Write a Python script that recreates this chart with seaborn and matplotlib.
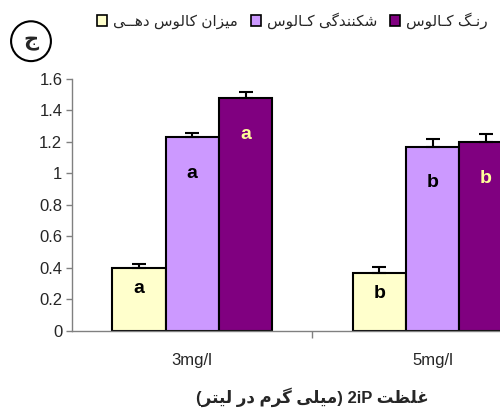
import numpy as np
import pandas as pd
import matplotlib
matplotlib.use('Agg')
import matplotlib.pyplot as plt
import seaborn as sns

# data
concentrations = ['3mg/l', '5mg/l']
series_names = ['میزان کالوس دهــی', 'شکنندگی کـالوس', 'رنـگ کـالوس']
induction = [0.40, 0.37]
fragility = [1.23, 1.17]
colour = [1.48, 1.20]
induction_err = [0.027, 0.034]
fragility_err = [0.025, 0.05]
colour_err = [0.035, 0.05]
induction_letters = ['a', 'b']
fragility_letters = ['a', 'b']
colour_letters = ['a', 'b']
yticks = [0, 0.2, 0.4, 0.6, 0.8, 1, 1.2, 1.4, 1.6]
ytick_labels = ['0', '0.2', '0.4', '0.6', '0.8', '1', '1.2', '1.4', '1.6']

palette = ['#FFFFCC', '#CC99FF', '#800080']
letter_colours = ['black', 'black', '#FFFF99']

# minimal arabic/persian shaping (matplotlib has no bidi / joining)
FORMS = {
    'ا': ('\uFE8D', '\uFE8E', None, None),
    'ت': ('\uFE95', '\uFE96', '\uFE97', '\uFE98'),
    'ج': ('\uFE9D', '\uFE9E', '\uFE9F', '\uFEA0'),
    'د': ('\uFEA9', '\uFEAA', None, None),
    'ر': ('\uFEAD', '\uFEAE', None, None),
    'ز': ('\uFEAF', '\uFEB0', None, None),
    'س': ('\uFEB1', '\uFEB2', '\uFEB3', '\uFEB4'),
    'ش': ('\uFEB5', '\uFEB6', '\uFEB7', '\uFEB8'),
    'ظ': ('\uFEC5', '\uFEC6', '\uFEC7', '\uFEC8'),
    'غ': ('\uFECD', '\uFECE', '\uFECF', '\uFED0'),
    'ک': ('\uFB8E', '\uFB8F', '\uFB90', '\uFB91'),
    'گ': ('\uFB92', '\uFB93', '\uFB94', '\uFB95'),
    'ل': ('\uFEDD', '\uFEDE', '\uFEDF', '\uFEE0'),
    'م': ('\uFEE1', '\uFEE2', '\uFEE3', '\uFEE4'),
    'ن': ('\uFEE5', '\uFEE6', '\uFEE7', '\uFEE8'),
    'ه': ('\uFEE9', '\uFEEA', '\uFEEB', '\uFEEC'),
    'و': ('\uFEED', '\uFEEE', None, None),
    'ی': ('\uFBFC', '\uFBFD', '\uFBFE', '\uFBFF'),
}
TATWEEL = 'ـ'


def joins_left(ch):
    return ch == TATWEEL or (ch in FORMS and FORMS[ch][2] is not None)


def is_letter(ch):
    return ch == TATWEEL or ch in FORMS


def rtl(text):
    out = []
    for i, ch in enumerate(text):
        if ch not in FORMS:
            out.append(ch)
            continue
        prev = text[i - 1] if i > 0 else ''
        nxt = text[i + 1] if i + 1 < len(text) else ''
        p = joins_left(prev)
        n = joins_left(ch) and is_letter(nxt)
        iso, fin, ini, med = FORMS[ch]
        if p and n:
            out.append(med)
        elif p:
            out.append(fin)
        elif n:
            out.append(ini)
        else:
            out.append(iso)
    return ''.join(out)[::-1]


df = pd.DataFrame({
    'conc': concentrations * 3,
    'series': [s for s in series_names for _ in concentrations],
    'value': induction + fragility + colour,
})
errs = [induction_err, fragility_err, colour_err]
letters = [induction_letters, fragility_letters, colour_letters]

sns.set_style('ticks')
plt.rcParams['font.family'] = ['Liberation Sans', 'DejaVu Sans']

fig = plt.figure(figsize=(5, 4.12), dpi=100)
ax = fig.add_axes([0.144, 0.1966, 0.962, 0.6117])

sns.barplot(data=df, x='conc', y='value', hue='series', palette=palette,
            width=0.665, edgecolor='black', linewidth=1.5, saturation=1,
            errorbar=None, ax=ax)
ax.get_legend().remove()

offsets = [0.13, 0.23, 0.23]
bar_containers = list(ax.containers)
for k, cont in enumerate(bar_containers):
    for j, bar in enumerate(cont.patches):
        xc = bar.get_x() + bar.get_width() / 2
        h = bar.get_height()
        ax.errorbar(xc, h, yerr=[[0], [errs[k][j]]], fmt='none',
                    ecolor='black', elinewidth=1.5, capsize=5, capthick=1.5)
        ax.text(xc, h - offsets[k], letters[k][j], ha='center', va='center',
                fontsize=14, fontweight='bold', color=letter_colours[k])

ax.set_xlim(-0.5, 1.5)
ax.set_ylim(0, 1.6)
ax.set_yticks(yticks)
ax.set_yticklabels(ytick_labels, fontsize=12)
ax.set_xticks([0, 1])
ax.set_xticklabels(concentrations, fontsize=12)
ax.set_xticks([0.5], minor=True)
ax.tick_params(axis='x', which='major', length=0, pad=16)
ax.tick_params(axis='x', which='minor', length=5, color='#808080', width=1)
ax.tick_params(axis='y', length=4, color='#808080', width=1, pad=3)
for s in ['top', 'right']:
    ax.spines[s].set_visible(False)
for s in ['left', 'bottom']:
    ax.spines[s].set_color('#808080')
    ax.spines[s].set_linewidth(1)
ax.set_ylabel('')

xlabel = '(' + rtl('میلی گرم در لیتر') + ') 2iP ' + rtl('غلظت')
ax.set_xlabel('')
fig.text(0.624, 0.035, xlabel, ha='center', va='center', fontsize=12,
         fontweight='bold')

handles = [plt.Rectangle((0, 0), 1, 1, fc=c, ec='black', lw=1.2) for c in palette]
fig.legend(handles, [rtl(s) for s in series_names], loc='upper left',
           bbox_to_anchor=(0.194, 0.97), ncol=3, frameon=False, fontsize=11,
           handlelength=0.65, handleheight=0.65, handletextpad=0.4,
           columnspacing=0.85, borderaxespad=0, borderpad=0)

fig.text(0.062, 0.9, rtl('ج'), ha='center', va='center', fontsize=15,
         fontweight='bold',
         bbox=dict(boxstyle='circle,pad=0.5', fc='white', ec='black', lw=1.5))

fig.savefig('out.png', dpi=100)
